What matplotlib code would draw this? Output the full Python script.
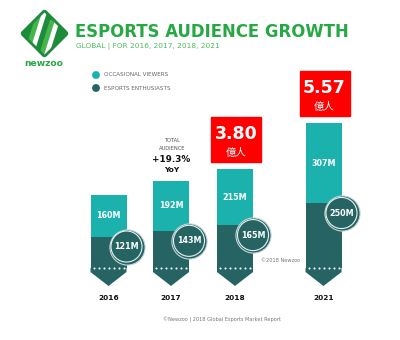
import numpy as np
import matplotlib.pyplot as plt
from matplotlib.patches import Polygon, Rectangle

plt.rcParams['font.family'] = ['DejaVu Sans', 'Noto Sans CJK SC']

# data (millions)
years = ['2016', '2017', '2018', '2021']
occasional = np.array([160, 192, 215, 307])
enthusiasts = np.array([121, 143, 165, 250])
highlight = ['2018', '2021']   # years with the red total box (in 億 = 100M)
yoy_label = '+19.3%'

TEAL = '#1bb1ad'
DARK = '#266464'
GREEN = '#27a844'
RED = '#fe0000'

# layout in pixels
xpos = np.array([108.5, 171, 235, 323.5])
BW = 36
BASE = 268   # pixel row of the bar baseline
PX = 0.26    # pixels per million

fig = plt.figure(figsize=(4, 3.4), dpi=100)
ax = fig.add_axes([0, 0, 1, 1])
ax.set_xlim(0, 400)
ax.set_ylim(-(340 - BASE) / PX, BASE / PX)
ax.axis('off')

totals = occasional + enthusiasts

ax.bar(xpos, enthusiasts, width=BW, color=DARK, zorder=2)
ax.bar(xpos, occasional, bottom=enthusiasts, width=BW, color=TEAL, zorder=2)

for c, o, e, t, yr in zip(xpos, occasional, enthusiasts, totals, years):
    l, r = c - BW / 2, c + BW / 2
    # arrow tip under the bar
    ax.add_patch(Polygon([(l, 0.5), (r, 0.5), (r, -4 / PX), (c, -18 / PX), (l, -4 / PX)],
                         closed=True, color=DARK, lw=0, zorder=2))
    ax.scatter(c + np.linspace(-15, 15, 7), np.zeros(7), s=2.2, c='white', lw=0, zorder=3)
    ax.text(c, e + o / 2, f'{o}M', color='white', fontsize=5.8, fontweight='bold',
            ha='center', va='center', zorder=3)
    cy = e - 10 / PX
    ax.scatter([r], [cy], s=640, c=DARK, edgecolors='#c4d4d4', linewidths=0.8, zorder=4)
    ax.scatter([r], [cy], s=500, facecolors='none', edgecolors='#e8f0f0', linewidths=0.8, zorder=5)
    ax.text(r, cy, f'{e}M', color='white', fontsize=5.8, fontweight='bold',
            ha='center', va='center', zorder=6)
    ax.text(c, -30 / PX, yr, fontsize=5.3, fontweight='bold', color='#111111',
            ha='center', va='center')
    if yr in highlight:
        b = t + 7 / PX
        ax.add_patch(Rectangle((c - 24, b), 50, 45 / PX, color=RED, zorder=2))
        ax.text(c + 1, b + 28 / PX, f'{t / 100:.2f}', color='white', fontsize=12.5,
                fontweight='bold', ha='center', va='center', zorder=3)
        ax.text(c + 1, b + 9 / PX, '億人', color='white', fontsize=7.5,
                family=['Noto Sans CJK SC'], ha='center', va='center', zorder=3)

# decorations in pixel coordinates
deco = fig.add_axes([0, 0, 1, 1])
deco.set_xlim(0, 400)
deco.set_ylim(340, 0)
deco.axis('off')
deco.patch.set_alpha(0)

# logo
cx, cy, h = 44.5, 33.5, 21
diamond = Polygon([(cx, cy - h), (cx + h, cy), (cx, cy + h), (cx - h, cy)],
                  closed=True, fc='#1d8b3b', ec='#1d8b3b', lw=4, joinstyle='round')
deco.add_patch(diamond)
stripes = [
    ([(38, 9), (43, 9), (31, 47), (26, 47)], '#45b64a'),
    ([(43, 9), (48, 9), (36, 47), (31, 47)], 'white'),
    ([(50, 20), (55, 20), (43, 58), (38, 58)], '#45b64a'),
    ([(55, 20), (60, 20), (48, 58), (43, 58)], 'white'),
]
for pts, col in stripes:
    p = Polygon(pts, closed=True, fc=col, lw=0)
    deco.add_patch(p)
    p.set_clip_path(diamond)
deco.text(44, 63, 'newzoo', color=GREEN, fontsize=6.6, fontweight='bold', ha='center', va='center')

deco.text(75, 32, 'ESPORTS AUDIENCE GROWTH', color=GREEN, fontsize=11.9, fontweight='bold',
          ha='left', va='center')
deco.text(76, 46, 'GLOBAL | FOR 2016, 2017, 2018, 2021', color='#4cbb5a', fontsize=5.3,
          ha='left', va='center')

# legend
deco.scatter([96, 96], [75, 88], s=32, c=[TEAL, DARK], lw=0)
deco.text(104, 75, 'OCCASIONAL VIEWERS', fontsize=4.1, color='#666666', va='center')
deco.text(104, 88, 'ESPORTS ENTHUSIASTS', fontsize=4.1, color='#666666', va='center')

# growth note
deco.text(172, 141, 'TOTAL', fontsize=3.7, color='#555555', ha='center', va='center')
deco.text(172, 148, 'AUDIENCE', fontsize=3.7, color='#555555', ha='center', va='center')
deco.text(171, 159, yoy_label, fontsize=6.4, fontweight='bold', color='#111111', ha='center', va='center')
deco.text(172, 170, 'YoY', fontsize=5.4, fontweight='bold', color='#111111', ha='center', va='center')

deco.text(261, 261, '©2018 Newzoo', fontsize=3.6, color='#777777', ha='left', va='center')
deco.text(222, 320, '©Newzoo | 2018 Global Esports Market Report', fontsize=3.6,
          color='#777777', ha='center', va='center')

fig.savefig('out.png', dpi=100, facecolor='white')
